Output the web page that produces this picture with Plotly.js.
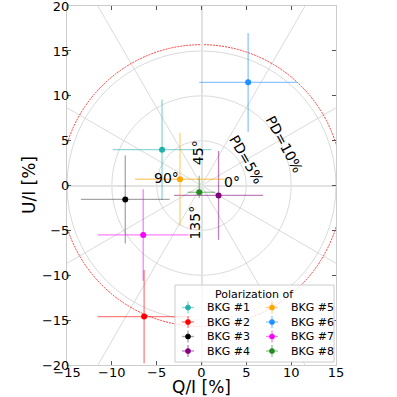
<!DOCTYPE html>
<html>
<head>
<meta charset="utf-8">
<script src="https://cdn.plot.ly/plotly-3.0.1.min.js"></script>
<style>html,body{margin:0;padding:0;background:#fff;}#plot{width:397px;height:397px;}</style>
</head>
<body>
<div id="plot"></div>
<script>
const names = ['BKG #1','BKG #2','BKG #3','BKG #4','BKG #5','BKG #6','BKG #7','BKG #8'];
const qValues = [-4.4, -6.4, -8.5, 1.9, -2.4, 5.2, -6.5, -0.25];
const uValues = [4.0, -14.6, -1.55, -1.1, 0.7, 11.5, -5.5, -0.75];
const qErrPlus  = [5.5, 5.2, 4.95, 4.95, 5.0, 5.45, 5.05, 1.8];
const qErrMinus = [5.5, 5.2, 4.95, 4.95, 5.0, 5.45, 5.05, 1.3];
const uErrPlus  = [5.6, 5.2, 4.9, 4.95, 5.15, 5.5, 5.1, 1.85];
const uErrMinus = [5.6, 5.2, 4.9, 4.95, 5.15, 5.5, 5.1, 0.65];
const colors = ['#20B2AA','#FF0000','#000000','#800080','#FFA500','#1E90FF','#FF00FF','#228B22'];
const errColors = ['rgba(32,178,170,0.5)','rgba(255,0,0,0.5)','rgba(0,0,0,0.35)','rgba(128,0,128,0.5)','rgba(255,165,0,0.5)','rgba(30,144,255,0.5)','rgba(255,0,255,0.5)','rgba(34,139,34,0.5)'];
const legendTitle = 'Polarization of';
const xTitle = 'Q/I [%]';
const yTitle = 'U/I [%]';

const gridRadii = [5, 10, 15];
const spokeAngles = [30, 60, 120, 150];
const mdpRadius = 15.7;
const angleLabels = [
  {text:'0°', x:3.4, y:0.45, rot:0},
  {text:'45°', x:-0.3, y:3.7, rot:-90},
  {text:'90°', x:-3.85, y:0.8, rot:0},
  {text:'135°', x:-0.7, y:-4.1, rot:-90}
];
const pdLabels = [
  {text:'PD=5%', x:5.07, y:2.9, rot:60},
  {text:'PD=10%', x:9.2, y:4.6, rot:62}
];

// plot-area geometry in pixels (for legend / title placement only)
const M = {l:67, r:61, t:6, b:32};
const W = 397, H = 397;
const PW = W - M.l - M.r, PH = H - M.t - M.b;
const px = v => (v - M.l) / PW;
const py = v => (H - M.b - v) / PH;

const traces = names.map((n,i)=>({
  type:'scatter', mode:'markers', name:n,
  x:[qValues[i]], y:[uValues[i]],
  marker:{color:colors[i], size:6},
  error_x:{type:'data', symmetric:false, array:[qErrPlus[i]], arrayminus:[qErrMinus[i]], color:errColors[i], thickness:1.3, width:0},
  error_y:{type:'data', symmetric:false, array:[uErrPlus[i]], arrayminus:[uErrMinus[i]], color:errColors[i], thickness:1.3, width:0},
  showlegend:false
}));

const shapes = [];
gridRadii.forEach(r=>shapes.push({type:'circle', xref:'x', yref:'y', x0:-r, x1:r, y0:-r, y1:r, line:{color:'#d0d0d0', width:0.8}, layer:'below'}));
spokeAngles.forEach(a=>{
  const L = 40, t = a*Math.PI/180;
  shapes.push({type:'line', xref:'x', yref:'y', x0:-L*Math.cos(t), y0:-L*Math.sin(t), x1:L*Math.cos(t), y1:L*Math.sin(t), line:{color:'#d0d0d0', width:0.8}, layer:'below'});
});
shapes.push({type:'circle', xref:'x', yref:'y', x0:-mdpRadius, x1:mdpRadius, y0:-mdpRadius, y1:mdpRadius, line:{color:'rgba(255,0,0,0.75)', width:1, dash:'2px,1px'}, layer:'below'});

const annotations = angleLabels.concat(pdLabels).map(l=>({
  text:l.text, x:l.x, y:l.y, xref:'x', yref:'y', showarrow:false, textangle:l.rot,
  font:{family:'DejaVu Sans', size:14, color:'#000'}
}));

// y-axis title placed like matplotlib's
annotations.push({text:yTitle, xref:'paper', yref:'paper', x:px(28.5), y:0.5, textangle:-90, showarrow:false,
  xanchor:'center', yanchor:'middle', font:{family:'DejaVu Sans', size:17, color:'#000'}});

// legend box (matplotlib style, two columns)
shapes.push({type:'rect', xref:'paper', yref:'paper', x0:px(175), x1:px(334), y0:py(362), y1:py(285),
  fillcolor:'rgba(255,255,255,0.8)', line:{color:'#cccccc', width:1}, layer:'above'});
annotations.push({text:legendTitle, xref:'paper', yref:'paper', x:px(254), y:py(294), showarrow:false,
  xanchor:'center', yanchor:'middle', font:{family:'DejaVu Sans', size:11, color:'#000'}});
const rowY = [307.5, 322, 336.5, 351];
const colMarkX = [188, 272];
const colTextX = [205, 289];
names.forEach((n,i)=>{
  const c = Math.floor(i/4), r = i%4;
  const mx = colMarkX[c], my = rowY[r];
  shapes.push({type:'line', xref:'paper', yref:'paper', x0:px(mx-6), x1:px(mx+6), y0:py(my), y1:py(my), line:{color:errColors[i], width:1.3}, layer:'above'});
  shapes.push({type:'line', xref:'paper', yref:'paper', x0:px(mx), x1:px(mx), y0:py(my-6), y1:py(my+6), line:{color:errColors[i], width:1.3}, layer:'above'});
  shapes.push({type:'circle', xref:'paper', yref:'paper', x0:px(mx-2.6), x1:px(mx+2.6), y0:py(my+2.6), y1:py(my-2.6), fillcolor:colors[i], line:{color:colors[i], width:0.5}, layer:'above'});
  annotations.push({text:n, xref:'paper', yref:'paper', x:px(colTextX[c]), y:py(my), showarrow:false,
    xanchor:'left', yanchor:'middle', font:{family:'DejaVu Sans', size:11, color:'#000'}});
});

const axisCommon = {dtick:5, tick0:0, showgrid:false, zeroline:true, zerolinecolor:'#e2e2e2', zerolinewidth:2,
  showline:true, linecolor:'#cccccc', linewidth:1, mirror:'allticks', ticks:'inside', ticklen:4, tickcolor:'#555',
  tickfont:{family:'DejaVu Sans', size:13, color:'#000'}, automargin:false, ticklabeloverflow:'allow'};

const layout = {
  width:W, height:H,
  margin:M,
  paper_bgcolor:'#fff', plot_bgcolor:'#fff',
  showlegend:false,
  font:{family:'DejaVu Sans', size:13, color:'#000'},
  xaxis:Object.assign({}, axisCommon, {range:[-15,15], ticklabelstandoff:-5,
    title:{text:xTitle, font:{family:'DejaVu Sans', size:17, color:'#000'}, standoff:3}}),
  yaxis:Object.assign({}, axisCommon, {range:[-20,20.01], ticklabelstandoff:-6}),
  shapes:shapes,
  annotations:annotations
};

Plotly.newPlot('plot', traces, layout, {displayModeBar:false, staticPlot:true});
</script>
</body>
</html>
